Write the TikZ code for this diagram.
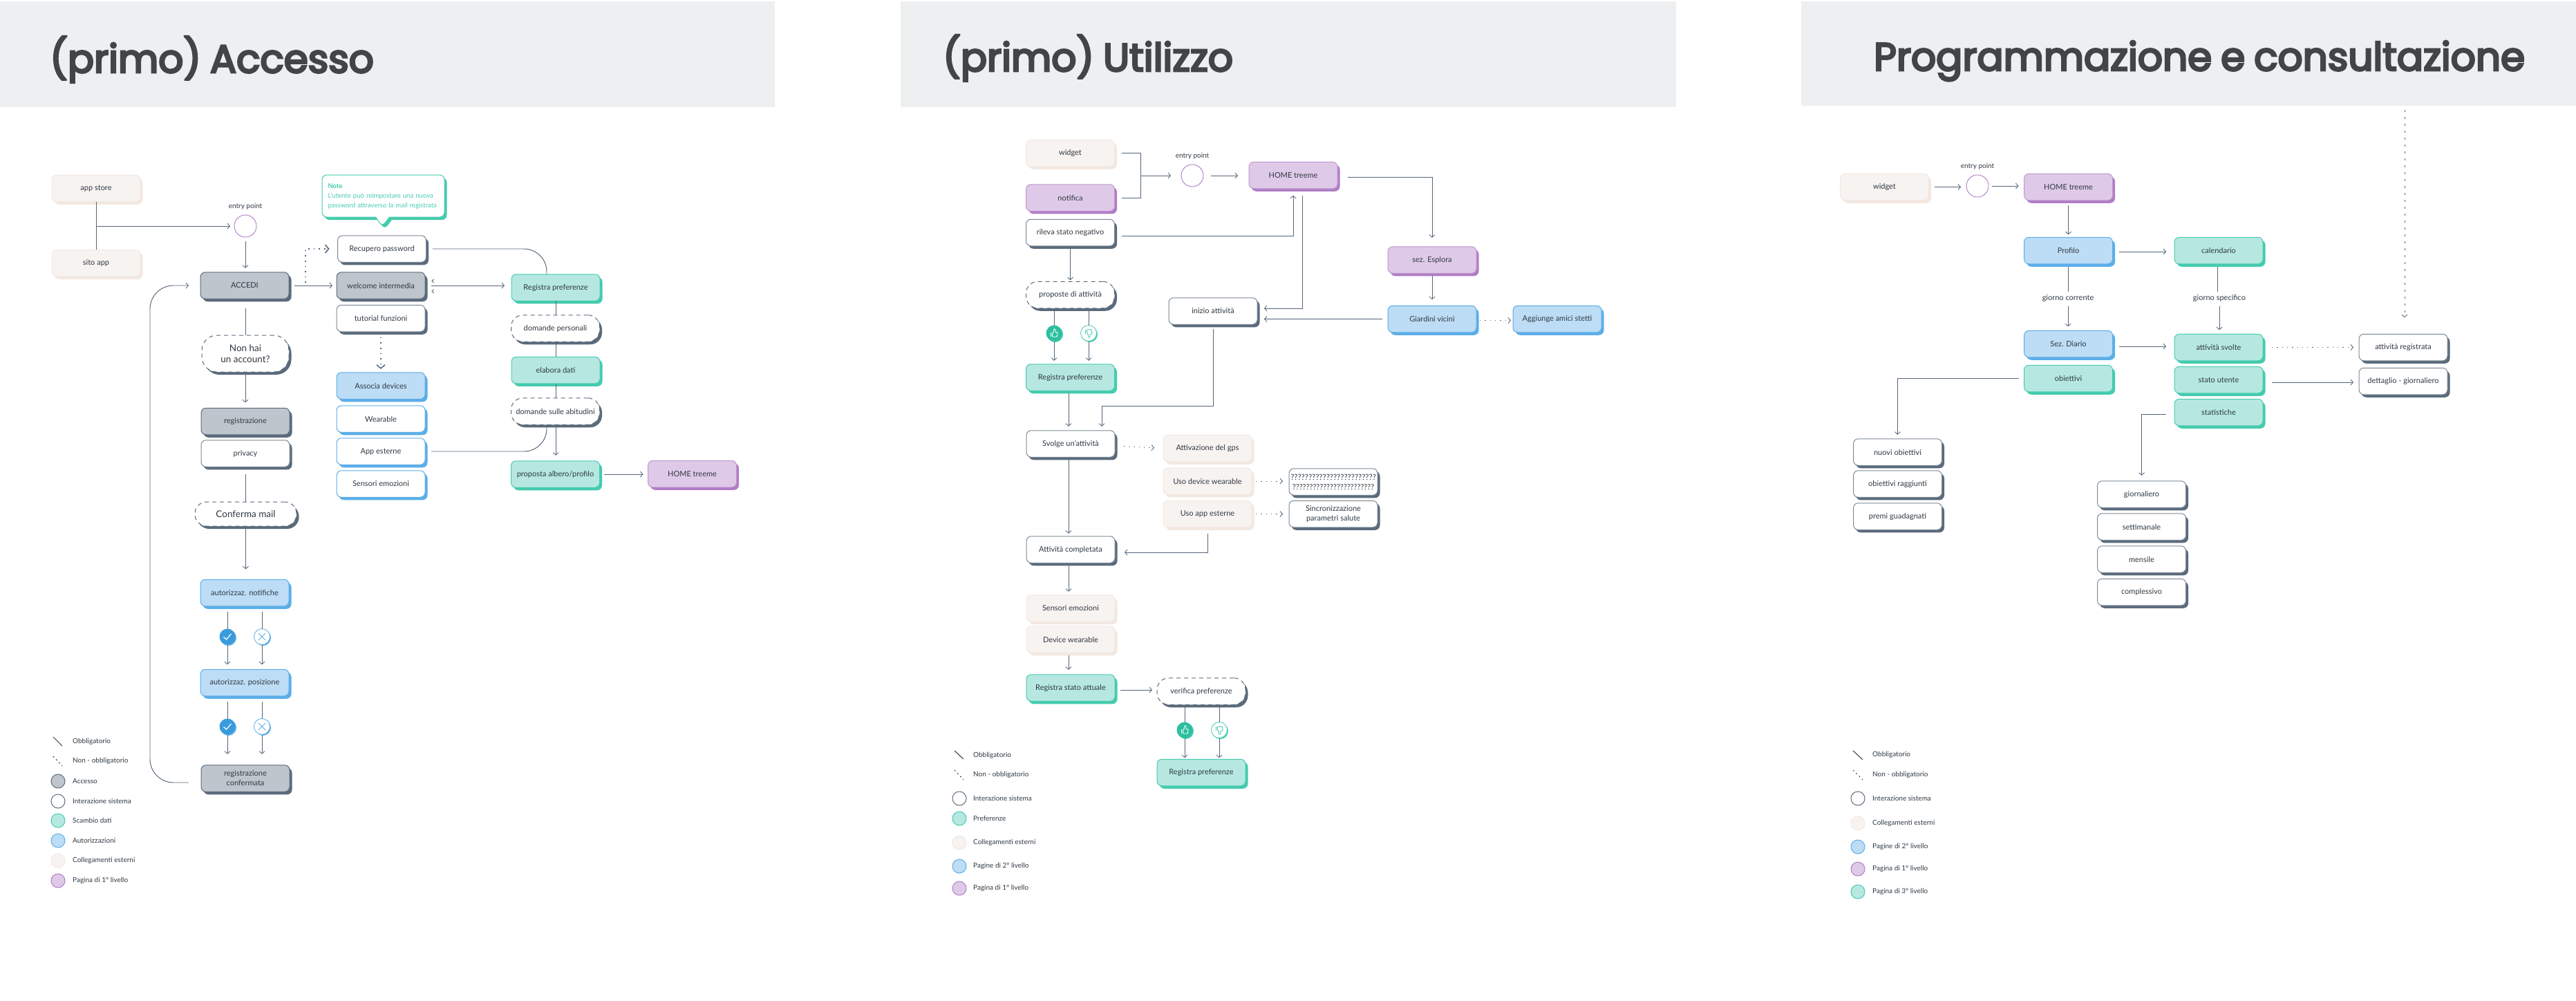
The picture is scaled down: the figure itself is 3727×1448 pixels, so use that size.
\documentclass[tikz,border=0pt]{standalone}
\usepackage{fontspec}
\setmainfont{Lato}
\newfontfamily\headfont[FakeBold=5]{Poppins}
\usetikzlibrary{arrows.meta,shadows,shapes.callouts,calc}
\definecolor{ink}{HTML}{2F3942}
\definecolor{wire}{HTML}{55657A}
\definecolor{head}{HTML}{EEEFF1}
\definecolor{titleink}{HTML}{424548}
\definecolor{gfill}{HTML}{BEC5CC}
\definecolor{gdark}{HTML}{5B6B7C}
\definecolor{tfill}{HTML}{B6E8E1}
\definecolor{tdark}{HTML}{45CBAE}
\definecolor{bfill}{HTML}{BDDCF5}
\definecolor{bdark}{HTML}{5CAEE8}
\definecolor{pfill}{HTML}{F7F3F1}
\definecolor{pdark}{HTML}{F3E8E0}
\definecolor{vfill}{HTML}{DFC9E8}
\definecolor{vdark}{HTML}{B07DC5}
\definecolor{bsolid}{HTML}{3A9BDC}
\definecolor{tsolid}{HTML}{2DBFA0}
\newcommand{\boxfont}{\fontsize{11}{14}\selectfont}
\newcommand{\bigfont}{\fontsize{13.5}{16}\selectfont}
\newcommand{\legfont}{\fontsize{10}{13}\selectfont}
\newcommand{\notefont}{\fontsize{9.5}{14}\selectfont}
\newcommand{\titlefont}{\headfont\fontsize{56.5}{66}\selectfont\spaceskip=13pt\relax}
\tikzset{
  x=1pt,y=-1pt,
  base/.style={rectangle,rounded corners=7pt,minimum width=128pt,minimum height=38.5pt,inner sep=0pt,outer sep=0pt,align=center,font=\boxfont,text=ink,line width=1pt},
  shade/.style={general shadow={fill=#1,shadow xshift=3.5pt,shadow yshift=-4pt}},
  graybox/.style={base,draw=gdark,fill=gfill,shade=gdark},
  whitebox/.style={base,draw=gdark!80,fill=white,shade=gdark},
  dashbox/.style={base,rounded corners=17pt,draw=gdark,dash pattern=on 6pt off 5pt,fill=white,shade=gdark},
  greenbox/.style={base,draw=tdark,fill=tfill,shade=tdark},
  bluebox/.style={base,draw=bdark,fill=bfill,shade=bdark},
  bluewhite/.style={base,draw=bdark,fill=white,shade=bdark},
  peachbox/.style={base,draw=pdark,fill=pfill,shade=pdark},
  violetbox/.style={base,draw=vdark!80,fill=vfill,shade=vdark},
  notebox/.style={rectangle callout,rounded corners=7pt,minimum width=177pt,minimum height=61pt,inner sep=0pt,outer sep=0pt,draw=tdark,fill=white,shade=tdark,text width=160pt,align=left,font=\notefont,text=tdark,callout pointer width=20pt,line width=1pt},
  entry/.style={circle,minimum size=32pt,inner sep=0pt,outer sep=0pt,draw=vdark,line width=.9pt,fill=white},
  plainlabel/.style={inner sep=0pt,outer sep=0pt,font=\legfont,text=ink},
  legtext/.style={inner sep=0pt,anchor=west,font=\legfont,text=ink},
  legdot/.style={circle,minimum size=20pt,inner sep=0pt,outer sep=0pt,line width=1pt},
  titletext/.style={inner sep=0pt,anchor=base west,text=titleink,font=\titlefont},
  yesdot/.style={circle,minimum size=23pt,inner sep=0pt,outer sep=0pt,fill=bsolid,draw=none,general shadow={fill=bdark,shadow xshift=1.5pt,shadow yshift=-1.5pt}},
  nodot/.style={circle,minimum size=23pt,inner sep=0pt,outer sep=0pt,fill=white,draw=bdark,line width=.8pt,general shadow={fill=bdark,shadow xshift=1.5pt,shadow yshift=-1.5pt}},
  likedot/.style={circle,minimum size=23pt,inner sep=0pt,outer sep=0pt,fill=tsolid,draw=none,general shadow={fill=tdark,shadow xshift=1.5pt,shadow yshift=-1.5pt}},
  dislikedot/.style={circle,minimum size=23pt,inner sep=0pt,outer sep=0pt,fill=white,draw=tdark,line width=.8pt,general shadow={fill=tdark,shadow xshift=1.5pt,shadow yshift=-1.5pt}},
  plain/.style={draw=wire,line width=.95pt},
  conn/.style={plain,-{Straight Barb[length=3.5pt,width=8pt,line width=.85pt]}},
  dotted line/.style={dash pattern=on 1.3pt off 6pt},
  dotconn/.style={conn,dotted line},
  bigdot/.style={draw=wire,line width=1.1pt,dash pattern=on 1.6pt off 6pt,-{Straight Barb[length=5pt,width=12pt,line width=1.5pt]}},
  tick mark/.pic={\path[pic actions,fill=none,line width=1.2pt] (-5.5,0.5) -- (-1.5,4) -- (5.5,-4);},
  cross mark/.pic={\path[pic actions,fill=none,line width=1pt] (-5,-5) -- (5,5) (-5,5) -- (5,-5);},
  thumb mark/.pic={\path[pic actions,fill=none,line width=.9pt] (-6,-1) -- (-6,6.5);
     \path[pic actions,fill=none,line width=.9pt,rounded corners=1pt] (-3,0) -- (-0.5,-3) -- (-0.2,-7.5) -- (2,-7.5) -- (2.8,-4) -- (2.2,-1.5) -- (6.5,-1.5) -- (5.5,6.5) -- (-3,6.5) -- cycle;},
}
\begin{document}
\begin{tikzpicture}
\useasboundingbox (0,0) rectangle (3727,1448);
% headers
\fill[head] (0,2) rectangle (1121,155);
\fill[head] (1303,2) rectangle (2425,155);
\fill[head] (2606,2) rectangle (3727,153);
\node[titletext] (t1) at (72,105) {(primo) Accesso};
\node[titletext] (t2) at (1364,103) {(primo) Utilizzo};
\node[titletext] (t3) at (2711,102) {Programmazione e consultazione};

%% ---------- panel 1 ----------
\node[peachbox] (a1) at (139,272.5) {app store};
\node[peachbox] (a2) at (139,380.5) {sito app};
\node[entry] (e1) at (355,327) {};
\node[plainlabel] (e1t) at (355,299) {entry point};
\node[graybox] (acc) at (354,413) {ACCEDI};
\coordinate (ptr) at (553,328);
\node[notebox,callout absolute pointer={(ptr)}] (note) at (554.5,283.5) {{\bfseries Note}\\L'utente può reimpostare una nuova\\password attraverso la mail registrata};
\node[whitebox] (rec) at (552.5,360) {Recupero password};
\node[graybox] (wel) at (551,413) {welcome intermedia};
\node[whitebox] (tut) at (551,460.5) {tutorial funzioni};
\node[dashbox,minimum width=126pt,minimum height=53pt,rounded corners=22pt,font=\bigfont] (non) at (355,511.5) {Non hai\\un account?};
\node[graybox] (reg) at (355,609.5) {registrazione};
\node[whitebox] (pri) at (355,656) {privacy};
\node[dashbox,minimum width=147pt,minimum height=35pt,font=\bigfont] (cnf) at (355.5,743.5) {Conferma mail};
\node[bluebox] (ass) at (551,558) {Associa devices};
\node[bluewhite] (wea) at (551,606) {Wearable};
\node[bluewhite] (aes) at (551,653) {App esterne};
\node[bluewhite] (sem) at (551,700) {Sensori emozioni};
\node[bluebox] (ntf) at (354,857.5) {autorizzaz. notifiche};
\node[bluebox] (pos) at (354,987.5) {autorizzaz. posizione};
\node[graybox] (rcf) at (355,1126) {registrazione\\confermata};
\node[yesdot] (c1) at (329,921) {};
\node[nodot] (x1) at (379,921) {};
\node[yesdot] (c2) at (329,1051) {};
\node[nodot] (x2) at (379,1051) {};
\pic[draw=white] at (c1) {tick mark};
\pic[draw=white] at (c2) {tick mark};
\pic[draw=bdark] at (x1) {cross mark};
\pic[draw=bdark] at (x2) {cross mark};
\node[greenbox] (rp1) at (804,416) {Registra preferenze};
\node[dashbox] (dp1) at (803.5,475) {domande personali};
\node[greenbox] (ela) at (804,535.5) {elabora dati};
\node[dashbox] (dp2) at (803.5,595) {domande sulle abitudini};
\node[greenbox] (pro) at (803.5,686) {proposta albero/profilo};
\node[violetbox] (h1) at (1001.5,685.5) {HOME treeme};

\draw[plain] (a1.south) -- (a2.north);
\coordinate (j1) at (a1 |- e1);
\draw[conn,shorten >=6pt] (j1) -- (e1.west);
\draw[conn,shorten <=6pt,shorten >=6pt] (e1.south) -- (e1.south |- acc.north);
\draw[plain,shorten <=14pt] (e1.south |- acc.south) -- (e1.south |- non.north);
\draw[conn,shorten <=4pt,shorten >=8pt] (non.south) -- (non.south |- reg.north);
\draw[plain,shorten <=11pt] (pri.south) -- (pri.south |- cnf.north);
\draw[conn,shorten <=4pt,shorten >=15pt] (cnf.south) -- (cnf.south |- ntf.north);
\draw[conn,shorten <=8pt,shorten >=6pt] (acc.east) -- (acc.east -| wel.west);
\coordinate (d1) at (442,409);
\draw[bigdot,shorten >=12pt] (d1) |- (rec.west);
\draw[bigdot,shorten <=8pt,shorten >=5pt] (tut.south) -- (tut.south |- ass.north);
\draw[plain,rounded corners=33pt,shorten <=9pt] (rec.east) -| ([xshift=-13pt]rp1.north);
\draw[conn,shorten <=9pt,shorten >=10pt] (wel.east) -- (wel.east -| rp1.west);
\draw[plain] ([xshift=12.5pt,yshift=9pt]wel.east) -- ([xshift=10pt,yshift=6.5pt]wel.east) -- ([xshift=12.5pt,yshift=4pt]wel.east);
\draw[plain] ([xshift=12.5pt,yshift=-6pt]wel.east) -- ([xshift=10pt,yshift=-8.5pt]wel.east) -- ([xshift=12.5pt,yshift=-11pt]wel.east);
\draw[plain] (rp1.south) -- (rp1.south |- dp1.north);
\draw[plain] (ela.north |- dp1.south) -- (ela.north);
\draw[plain] (ela.south) -- (ela.south |- dp2.north);
\draw[conn,shorten >=8pt] (ela.south |- dp2.south) -- (ela.south |- pro.north);
\draw[plain,rounded corners=33pt,shorten <=9pt] (aes.east) -| ([xshift=-12.5pt]dp2.south);
\draw[conn,shorten <=6pt,shorten >=7pt] (pro.east) -- (pro.east -| h1.west);
\draw[plain,shorten <=8pt] (c1 |- ntf.south) -- (c1.north);
\draw[plain,shorten <=8pt] (x1 |- ntf.south) -- (x1.north);
\draw[conn,shorten >=7pt] (c1.south) -- (c1 |- pos.north);
\draw[conn,shorten >=7pt] (x1.south) -- (x1 |- pos.north);
\draw[plain,shorten <=8pt] (c2 |- pos.south) -- (c2.north);
\draw[plain,shorten <=8pt] (x2 |- pos.south) -- (x2.north);
\draw[conn,shorten >=16pt] (c2.south) -- (c2 |- rcf.north);
\draw[conn,shorten >=16pt] (x2.south) -- (x2 |- rcf.north);
\coordinate (lb) at (217,1132);
\coordinate (lt) at (217,413);
\draw[conn,rounded corners=34pt,shorten <=18pt,shorten >=17pt] ([yshift=-6pt]rcf.west) -- (lb) -- (lt) -- (acc.west);

% legend 1
\draw[draw=ink,line width=1pt] (77,1066) -- (90,1079);
\draw[draw=ink,line width=1pt,dash pattern=on 2pt off 4pt] (77,1094) -- (90,1108);
\node[legtext] (l1a) at (105,1073) {Obbligatorio};
\node[legtext] (l1b) at (105,1101) {Non - obbligatorio};
\node[legdot,draw=gdark,fill=gfill] (d1c) at (84,1130) {}; \node[legtext] (l1c) at (105,1130) {Accesso};
\node[legdot,draw=gdark,fill=white] (d1d) at (84,1159) {}; \node[legtext] (l1d) at (105,1159) {Interazione sistema};
\node[legdot,draw=tdark,fill=tfill] (d1e) at (84,1187) {}; \node[legtext] (l1e) at (105,1187) {Scambio dati};
\node[legdot,draw=bdark,fill=bfill] (d1f) at (84,1216) {}; \node[legtext] (l1f) at (105,1216) {Autorizzazioni};
\node[legdot,draw=pdark,fill=pfill] (d1g) at (84,1245) {}; \node[legtext] (l1g) at (105,1245) {Collegamenti esterni};
\node[legdot,draw=vdark,fill=vfill] (d1h) at (84,1274) {}; \node[legtext] (l1h) at (105,1274) {Pagina di 1° livello};

%% ---------- panel 2 ----------
\node[peachbox] (w2) at (1548.5,221.5) {widget};
\node[violetbox] (nt2) at (1548.5,286) {notifica};
\node[whitebox] (ril) at (1548.5,336.5) {rileva stato negativo};
\node[entry] (e2) at (1725,254) {};
\node[plainlabel] (e2t) at (1725,226) {entry point};
\node[violetbox] (h2) at (1871,253.5) {HOME treeme};
\node[violetbox] (esp) at (2072,376) {sez. Esplora};
\node[bluebox] (gia) at (2072,461.5) {Giardini vicini};
\node[bluebox] (agg) at (2253,461.5) {Aggiunge amici stetti};
\node[whitebox] (ini) at (1755,450) {inizio attività};
\node[dashbox] (pra) at (1548.5,426.5) {proposte di attività};
\node[likedot] (t1a) at (1525,482) {};
\node[dislikedot] (t1b) at (1575,482) {};
\pic[draw=white,scale=.8] at (t1a) {thumb mark};
\pic[draw=tdark,scale=.8,yscale=-1] at (t1b) {thumb mark};
\node[greenbox] (rp2) at (1548.5,546) {Registra preferenze};
\node[whitebox] (svo) at (1549,642) {Svolge un'attività};
\node[peachbox] (gps) at (1747,648.5) {Attivazione del gps};
\node[peachbox] (dev) at (1747,696) {Uso device wearable};
\node[peachbox] (uap) at (1747,743.5) {Uso app esterne};
\node[whitebox] (qq) at (1929,697) {\fontsize{11.5}{15}\selectfont ????????????????????????\\????????????????????????};
\node[whitebox] (sin) at (1929,743.5) {Sincronizzazione\\parametri salute};
\node[whitebox] (att) at (1549,795) {Attività completata};
\node[peachbox] (sen) at (1549,880) {Sensori emozioni};
\node[peachbox] (dw) at (1549,925) {Device wearable};
\node[greenbox] (rs) at (1549,995) {Registra stato attuale};
\node[dashbox] (ver) at (1738,1000) {verifica preferenze};
\node[likedot] (t2a) at (1714,1056) {};
\node[dislikedot] (t2b) at (1764,1056) {};
\pic[draw=white,scale=.8] at (t2a) {thumb mark};
\pic[draw=tdark,scale=.8,yscale=-1] at (t2b) {thumb mark};
\node[greenbox] (rp3) at (1738,1117.5) {Registra preferenze};

\coordinate (j2) at (1650,254);
\draw[plain,shorten <=10pt,shorten >=10pt] (w2.east) -| (j2) |- (nt2.east);
\draw[conn,shorten >=15pt] (j2) -- (e2.west);
\draw[conn,shorten <=11pt,shorten >=16pt] (e2.east) -- (e2.east -| h2.west);
\draw[conn,shorten <=15pt,shorten >=13pt] ([yshift=-3pt]h2.east) -| (esp.north);
\draw[conn,shorten <=10pt,shorten >=10pt] ([yshift=-4.5pt]ril.east) -| (h2.south);
\draw[conn,shorten <=10pt,shorten >=10pt] ([xshift=13pt]h2.south) |- ([yshift=4pt]ini.east);
\draw[conn,shorten <=8pt,shorten >=10pt] (gia.west) -- (gia.west -| ini.east);
\draw[conn,shorten <=4pt,shorten >=9pt] (esp.south) -- (gia.north);
\draw[dotconn,shorten <=5pt,shorten >=3pt] ([yshift=-2pt]gia.east) -- ([yshift=-2pt]agg.west);
\draw[conn,shorten <=4pt,shorten >=2pt] (ril.south) -- (pra.north);
\draw[plain,shorten <=3pt] (t1a |- pra.south) -- (t1a.north);
\draw[plain,shorten <=3pt] (t1b |- pra.south) -- (t1b.north);
\draw[conn,shorten >=5pt] (t1a.south) -- (t1a |- rp2.north);
\draw[conn,shorten >=5pt] (t1b.south) -- (t1b |- rp2.north);
\draw[conn,shorten <=4pt,shorten >=6pt] ([xshift=-2.5pt]rp2.south) -- ([xshift=-3pt]svo.north);
\coordinate (j3) at (1594,587);
\draw[conn,shorten <=7pt,shorten >=6pt] (ini.south) |- (j3) -- (j3 |- svo.north);
\draw[conn,shorten <=4pt,shorten >=4pt] ([xshift=-3pt]svo.south) -- ([xshift=-3pt]att.north);
\draw[conn,shorten <=9pt,shorten >=14pt] (uap.south) |- ([yshift=-4pt]att.east);
\draw[conn,shorten <=4pt,shorten >=5pt] ([xshift=-3pt]att.south) -- ([xshift=-3pt]sen.north);
\draw[conn,shorten <=4pt,shorten >=7pt] ([xshift=-3pt]dw.south) -- ([xshift=-3pt]rs.north);
\draw[conn,shorten <=8pt,shorten >=7pt] ([yshift=-3pt]rs.east) -- ([yshift=2pt]ver.west);
\draw[plain,shorten <=4pt] (t2a |- ver.south) -- (t2a.north);
\draw[plain,shorten <=4pt] (t2b |- ver.south) -- (t2b.north);
\draw[conn,shorten >=2pt] (t2a.south) -- (t2a |- rp3.north);
\draw[conn,shorten >=2pt] (t2b.south) -- (t2b |- rp3.north);
\draw[dotconn,shorten <=13pt,shorten >=13pt] ([yshift=-3pt]svo.east) -- (gps.west);
\draw[dotconn,shorten <=6pt,shorten >=9pt] (dev.east) -- (dev.east -| qq.west);
\draw[dotconn,shorten <=6pt,shorten >=9pt] (uap.east) -- (sin.west);

% legend 2
\draw[draw=ink,line width=1pt] (1381,1086) -- (1394,1098);
\draw[draw=ink,line width=1pt,dash pattern=on 2pt off 4pt] (1381,1114) -- (1394,1128);
\node[legtext] (l2a) at (1408,1093) {Obbligatorio};
\node[legtext] (l2b) at (1408,1121) {Non - obbligatorio};
\node[legdot,draw=gdark,fill=white] (d2c) at (1388,1155) {}; \node[legtext] (l2c) at (1408,1155) {Interazione sistema};
\node[legdot,draw=tdark,fill=tfill] (d2d) at (1388,1184) {}; \node[legtext] (l2d) at (1408,1184) {Preferenze};
\node[legdot,draw=pdark,fill=pfill] (d2e) at (1388,1219) {}; \node[legtext] (l2e) at (1408,1219) {Collegamenti esterni};
\node[legdot,draw=bdark,fill=bfill] (d2f) at (1388,1253) {}; \node[legtext] (l2f) at (1408,1253) {Pagine di 2° livello};
\node[legdot,draw=vdark,fill=vfill] (d2g) at (1388,1285) {}; \node[legtext] (l2g) at (1408,1285) {Pagina di 1° livello};

%% ---------- panel 3 ----------
\node[peachbox] (w3) at (2726.5,270.5) {widget};
\node[entry] (e3) at (2861,269) {};
\node[plainlabel] (e3t) at (2861,241) {entry point};
\node[violetbox] (h3) at (2992.5,270.5) {HOME treeme};
\node[bluebox] (prf) at (2992.5,362.5) {Profilo};
\node[greenbox] (cal) at (3210,362.5) {calendario};
\node[plainlabel,font=\boxfont] (gc) at (2992,431) {giorno corrente};
\node[plainlabel,font=\boxfont] (gs) at (3211,431) {giorno specifico};
\node[bluebox] (dia) at (2992.5,497.5) {Sez. Diario};
\node[greenbox] (obi) at (2992.5,547.5) {obiettivi};
\node[greenbox] (svl) at (3210,502.5) {attività svolte};
\node[greenbox] (stu) at (3210,549.5) {stato utente};
\node[greenbox] (sta) at (3210,596.5) {statistiche};
\node[whitebox] (arg) at (3477,502.5) {attività registrata};
\node[whitebox] (det) at (3477,551.5) {dettaglio - giornaliero};
\node[whitebox] (nuo) at (2745.5,654) {nuovi obiettivi};
\node[whitebox] (rag) at (2745.5,700) {obiettivi raggiunti};
\node[whitebox] (pre) at (2745.5,747) {premi guadagnati};
\node[whitebox] (gio) at (3098.5,715) {giornaliero};
\node[whitebox] (set) at (3098.5,762) {settimanale};
\node[whitebox] (men) at (3098.5,809) {mensile};
\node[whitebox] (com) at (3098.5,856.5) {complessivo};

\draw[conn,shorten <=8pt,shorten >=8pt] (w3.east) -- (w3.east -| e3.west);
\draw[conn,shorten <=5pt,shorten >=8pt] (e3.east) -- (e3.east -| h3.west);
\draw[conn,shorten <=7pt,shorten >=4pt] (h3.south) -- (prf.north);
\draw[conn,shorten <=9pt,shorten >=12pt] ([yshift=-1.5pt]prf.east) -- ([yshift=-1.5pt]cal.west);
\draw[plain,shorten <=4pt,shorten >=4pt] (prf.south) -- (prf.south |- gc.north);
\draw[plain,shorten <=4pt,shorten >=4pt] ([xshift=-2pt]cal.south) -- ([xshift=-2pt]cal.south |- gs.north);
\draw[conn,shorten <=7pt,shorten >=6pt] (gc.south) -- (gc.south |- dia.north);
\draw[conn,shorten <=7pt,shorten >=6pt] (gs.south) -- (gs.south |- svl.north);
\draw[conn,shorten <=9pt,shorten >=12pt] ([yshift=-3.5pt]dia.east) -- ([yshift=1.5pt]svl.west);
\draw[conn,shorten <=8pt,shorten >=6pt] (obi.west) -| (nuo.north);
\draw[dotconn,shorten <=13pt,shorten >=8pt] (svl.east) -- (arg.west);
\draw[conn,shorten <=13pt,shorten >=8pt] ([yshift=-3.5pt]stu.east) -- ([yshift=-1.5pt]det.west);
\draw[conn,shorten <=12pt,shorten >=8pt] ([yshift=-2.5pt]sta.west) -| (gio.north);
\coordinate (topd) at (3479,159);
\draw[conn,dash pattern=on 3pt off 7pt,shorten >=24pt] (topd) -- (topd |- arg.north);

% legend 3
\draw[draw=ink,line width=1pt] (2681,1086) -- (2695,1099);
\draw[draw=ink,line width=1pt,dash pattern=on 2pt off 4pt] (2681,1114) -- (2695,1128);
\node[legtext] (l3a) at (2709,1092) {Obbligatorio};
\node[legtext] (l3b) at (2709,1121) {Non - obbligatorio};
\node[legdot,draw=gdark,fill=white] (d3c) at (2688,1155) {}; \node[legtext] (l3c) at (2709,1155) {Interazione sistema};
\node[legdot,draw=pdark,fill=pfill] (d3d) at (2688,1191) {}; \node[legtext] (l3d) at (2709,1191) {Collegamenti esterni};
\node[legdot,draw=bdark,fill=bfill] (d3e) at (2688,1225) {}; \node[legtext] (l3e) at (2709,1225) {Pagine di 2° livello};
\node[legdot,draw=vdark,fill=vfill] (d3f) at (2688,1257) {}; \node[legtext] (l3f) at (2709,1257) {Pagina di 1° livello};
\node[legdot,draw=tdark,fill=tfill] (d3g) at (2688,1290) {}; \node[legtext] (l3g) at (2709,1290) {Pagina di 3° livello};
\end{tikzpicture}
\end{document}
